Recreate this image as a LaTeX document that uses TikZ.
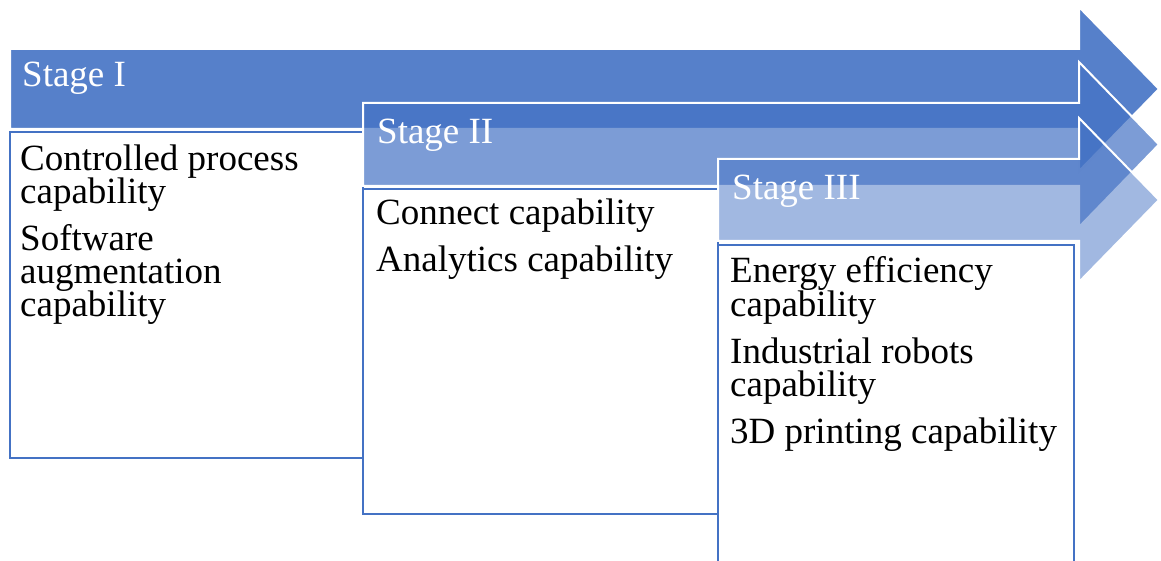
\documentclass[tikz,border=0pt]{standalone}
\usepackage{fontspec}
\setmainfont{Liberation Serif}
\definecolor{accent}{HTML}{4472C4}
\newcommand\capfont{\fontsize{37}{33}\selectfont\setlength\lineskiplimit{-50pt}\setlength\lineskip{0pt}}
\begin{document}
\begin{tikzpicture}[x=1pt,y=-1pt,
  stagearrow/.style={fill=accent,draw=white,line width=2pt,line join=miter},
  textbox/.style={fill=white,draw=accent,line width=1.6pt},
  stagelabel/.style={anchor=base west,inner sep=0pt,text=white,font=\fontsize{37}{33}\selectfont},
  item/.style={anchor=base west,inner sep=0pt,text=black,text width=340pt,align=flush left,
    font=\capfont}]
\useasboundingbox (0,0) rectangle (1161,561);

% Stage I: arrow and its box
\draw[stagearrow,fill opacity=0.9] (10,49) -- (1079,49) -- (1079,7) -- (1159,89)
  -- (1079,171) -- (1079,129) -- (10,129) -- cycle;
\draw[textbox] (10,132) rectangle (363,458);

% Stage II: arrow and its box
\draw[stagearrow,fill opacity=0.7] (363,103) -- (1079,103) -- (1079,62) -- (1159,144.5)
  -- (1079,227) -- (1079,186) -- (363,186) -- cycle;
\draw[textbox] (363,189) rectangle (718,514);

% Stage III: arrow and its box
\draw[stagearrow,fill opacity=0.5] (718,159) -- (1079,159) -- (1079,118) -- (1159,200)
  -- (1079,282) -- (1079,241) -- (718,241) -- cycle;
\draw[textbox] (718,245) rectangle (1074,600);

% Stage titles
\node[stagelabel] (s1) at (22,87) {Stage I};
\node[stagelabel] (s2) at (377,144) {Stage II};
\node[stagelabel] (s3) at (732,200) {Stage III};

% Stage I capabilities
\node[item] (a1) at (20,171) {Controlled process\\capability};
\node[item] (a2) at (20,251) {Software\\augmentation\\capability};

% Stage II capabilities
\node[item] (b1) at (376,225) {Connect capability};
\node[item] (b2) at (376,272) {Analytics capability};

% Stage III capabilities
\node[item] (c1) at (730,283) {Energy efficiency\\capability};
\node[item] (c2) at (730,363) {Industrial robots\\capability};
\node[item] (c3) at (730,443) {3D printing capability};
\end{tikzpicture}
\end{document}
